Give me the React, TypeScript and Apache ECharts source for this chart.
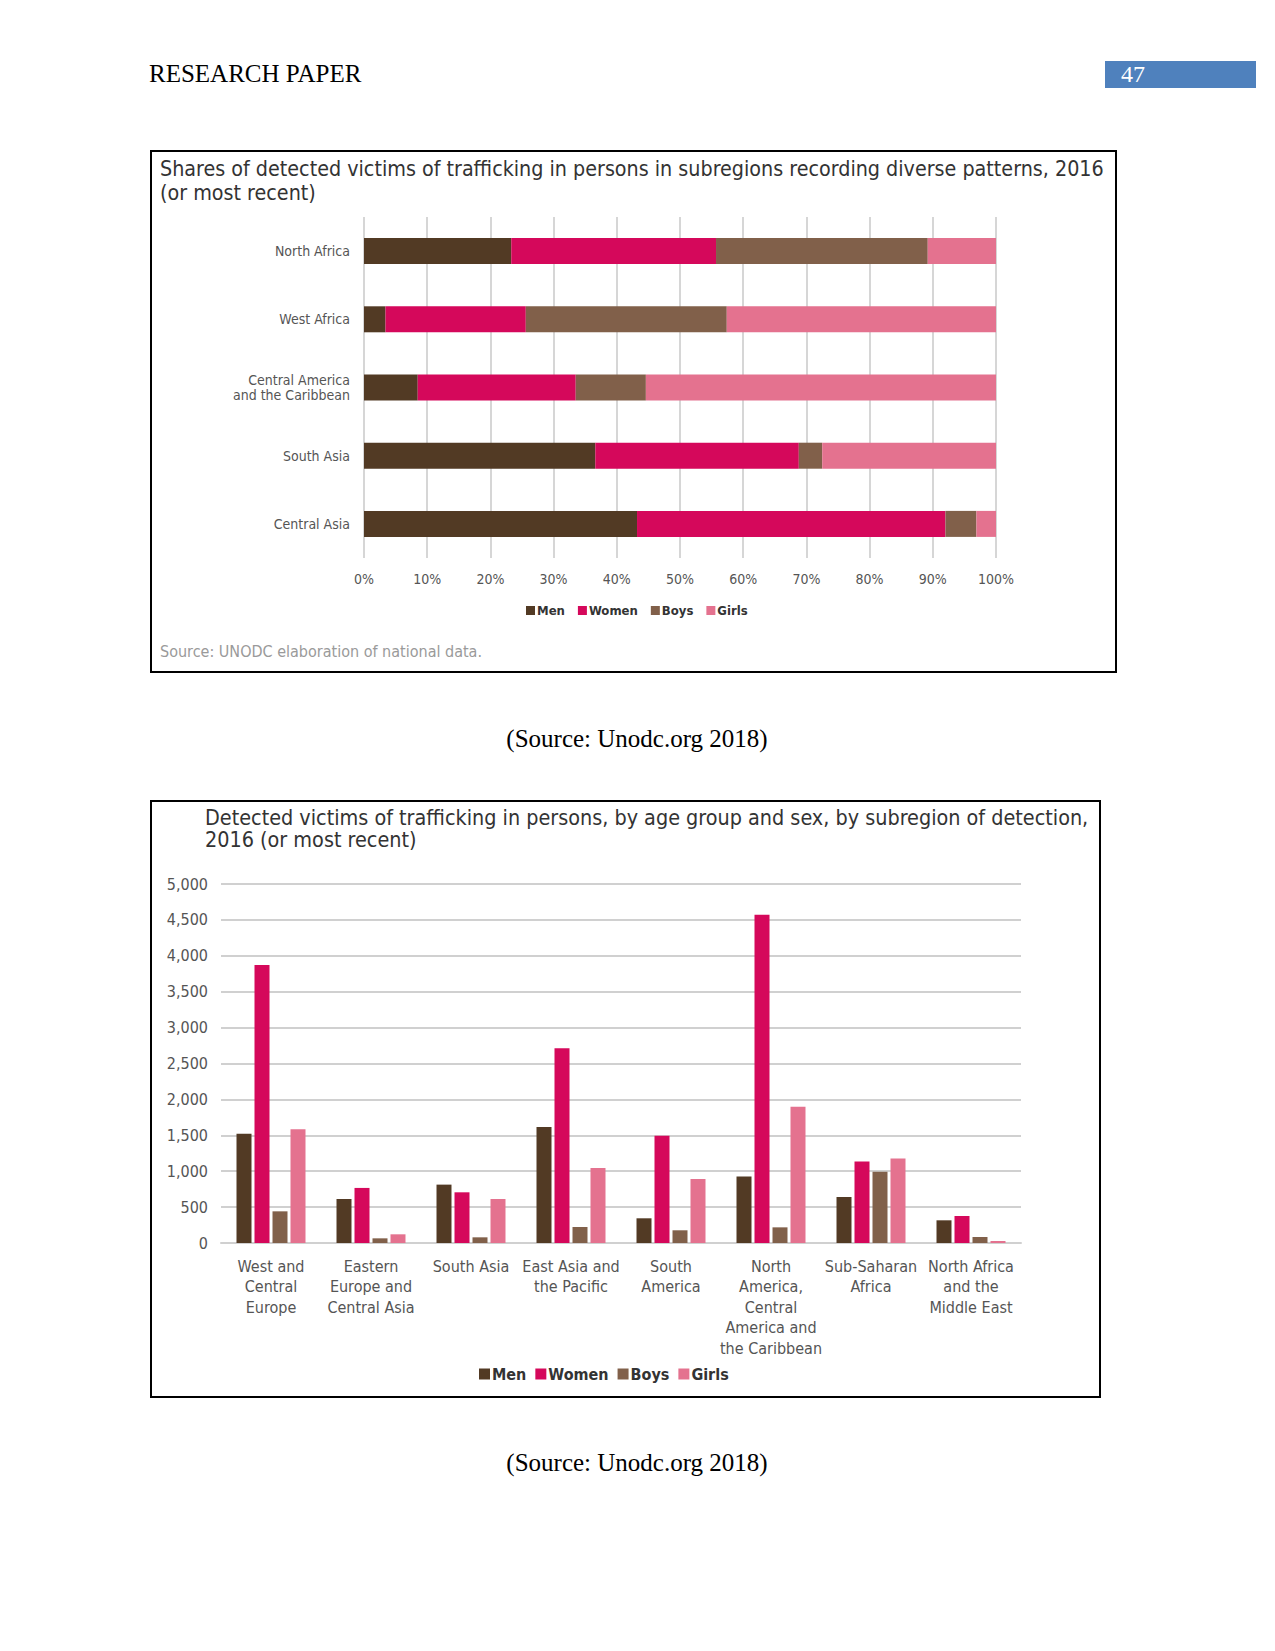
import React, { useEffect, useRef } from "react";
import * as echarts from "echarts";

// ---------- Data ----------
const shareCategories = ["North Africa", "West Africa", "Central America\nand the Caribbean", "South Asia", "Central Asia"];
const shareMen = [23.3, 3.4, 8.5, 36.6, 43.2];
const shareWomen = [32.4, 22.2, 25.0, 32.2, 48.8];
const shareBoys = [33.5, 31.8, 11.1, 3.7, 4.9];
const shareGirls = [10.8, 42.6, 55.4, 27.5, 3.1];

const countCategories = [
  "West and\nCentral\nEurope",
  "Eastern\nEurope and\nCentral Asia",
  "South Asia",
  "East Asia and\nthe Pacific",
  "South\nAmerica",
  "North\nAmerica,\nCentral\nAmerica and\nthe Caribbean",
  "Sub-Saharan\nAfrica",
  "North Africa\nand the\nMiddle East",
];
const countMen = [1520, 613, 813, 1617, 344, 925, 641, 316];
const countWomen = [3871, 767, 706, 2714, 1492, 4572, 1134, 376];
const countBoys = [441, 65, 79, 223, 177, 218, 994, 84];
const countGirls = [1585, 121, 613, 1046, 892, 1896, 1176, 28];

const seriesNames = ["Men", "Women", "Boys", "Girls"];
const colors = ["#523a24", "#d5085b", "#81604a", "#e4728f"];

const SANS = "'Liberation Sans Narrow', 'DejaVu Sans Condensed', 'Open Sans', sans-serif";
const SERIF = "'Liberation Serif', 'Times New Roman', serif";

export default function App() {
  const ref = useRef<HTMLDivElement>(null);
  useEffect(() => {
    document.body.style.margin = "0";
    const chart = echarts.init(ref.current!, null, { renderer: "svg" });
    const shareData = [shareMen, shareWomen, shareBoys, shareGirls];
    const countData = [countMen, countWomen, countBoys, countGirls];

    const option: any = {
      animation: false,
      backgroundColor: "#ffffff",
      color: colors,
      grid: [
        { left: 364, top: 217, width: 632, height: 341 },
        { left: 221, top: 884, width: 800, height: 359 },
      ],
      xAxis: [
        {
          gridIndex: 0,
          type: "value",
          min: 0,
          max: 100,
          interval: 10,
          axisLine: { show: false },
          axisTick: { show: false },
          splitLine: { show: true, lineStyle: { color: "#c8c8c8", width: 1.5 } },
          axisLabel: { formatter: "{value}%", color: "#555", fontFamily: SANS, fontSize: 14, margin: 14 },
        },
        {
          gridIndex: 1,
          type: "category",
          data: countCategories,
          axisLine: { show: true, lineStyle: { color: "#d0d0d0", width: 2 } },
          axisTick: { show: false },
          axisLabel: { color: "#555", fontFamily: SANS, fontSize: 16, lineHeight: 20.5, margin: 13, interval: 0 },
        },
      ],
      yAxis: [
        {
          gridIndex: 0,
          type: "category",
          inverse: true,
          data: shareCategories,
          axisLine: { show: false },
          axisTick: { show: false },
          axisLabel: { color: "#555", fontFamily: SANS, fontSize: 14, lineHeight: 15, margin: 14 },
        },
        {
          gridIndex: 1,
          type: "value",
          min: 0,
          max: 5000,
          interval: 500,
          axisLine: { show: false },
          axisTick: { show: false },
          splitLine: { show: true, lineStyle: { color: "#d0d0d0", width: 2 } },
          axisLabel: {
            color: "#555",
            fontFamily: SANS,
            fontSize: 16,
            margin: 13,
            formatter: (v: number) => v.toLocaleString("en-US"),
          },
        },
      ],
      legend: [
        {
          data: seriesNames,
          left: 526,
          top: 604,
          icon: "rect",
          itemWidth: 9,
          itemHeight: 9,
          itemGap: 13,
          padding: 0,
          selectedMode: false,
          textStyle: { fontFamily: SANS, fontSize: 13, fontWeight: "bold", color: "#333", padding: [0, 0, 0, -3] },
        },
        {
          data: seriesNames,
          left: 479,
          top: 1366,
          icon: "rect",
          itemWidth: 11,
          itemHeight: 11,
          itemGap: 9,
          padding: 0,
          selectedMode: false,
          textStyle: { fontFamily: SANS, fontSize: 16, fontWeight: "bold", color: "#333", padding: [0, 0, 0, -3] },
        },
      ],
      series: [
        ...seriesNames.map((n, i) => ({
          name: n,
          type: "bar",
          stack: "share",
          xAxisIndex: 0,
          yAxisIndex: 0,
          barWidth: 26,
          data: shareData[i],
          itemStyle: { color: colors[i] },
        })),
        ...seriesNames.map((n, i) => ({
          name: n,
          type: "bar",
          xAxisIndex: 1,
          yAxisIndex: 1,
          barWidth: 15,
          barGap: "20%",
          data: countData[i],
          itemStyle: { color: colors[i] },
        })),
      ],
      graphic: [
        { type: "text", left: 149, top: 61, style: { text: "RESEARCH PAPER", fontFamily: SERIF, fontSize: 25, fill: "#000" } },
        { type: "rect", shape: { x: 1105, y: 61, width: 151, height: 27 }, style: { fill: "#4f81bd" } },
        { type: "text", left: 1121, top: 62, style: { text: "47", fontFamily: SERIF, fontSize: 24, fill: "#fff" } },
        // box 1
        { type: "rect", shape: { x: 151, y: 151, width: 965, height: 521 }, style: { fill: "none", stroke: "#000", lineWidth: 2 } },
        {
          type: "text",
          left: 160,
          top: 156,
          style: {
            text: "Shares of detected victims of trafficking in persons in subregions recording diverse patterns, 2016\n(or most recent)",
            fontFamily: SANS,
            fontSize: 21.3,
            lineHeight: 24,
            fill: "#333",
          },
        },
        {
          type: "text",
          left: 160,
          top: 643,
          style: { text: "Source: UNODC elaboration of national data.", fontFamily: SANS, fontSize: 16, fill: "#9a9a9a" },
        },
        {
          type: "text",
          x: 637,
          y: 738,
          style: { text: "(Source: Unodc.org 2018)", fontFamily: SERIF, fontSize: 25, fill: "#000", align: "center", verticalAlign: "middle" },
        },
        // box 2
        { type: "rect", shape: { x: 151, y: 801, width: 949, height: 596 }, style: { fill: "none", stroke: "#000", lineWidth: 2 } },
        {
          type: "text",
          left: 205,
          top: 806,
          style: {
            text: "Detected victims of trafficking in persons, by age group and sex, by subregion of detection,\n2016 (or most recent)",
            fontFamily: SANS,
            fontSize: 21.4,
            lineHeight: 22,
            fill: "#333",
          },
        },
        {
          type: "text",
          x: 637,
          y: 1462,
          style: { text: "(Source: Unodc.org 2018)", fontFamily: SERIF, fontSize: 25, fill: "#000", align: "center", verticalAlign: "middle" },
        },
      ],
    };
    chart.setOption(option);
    return () => chart.dispose();
  }, []);
  return <div ref={ref} style={{ position: "absolute", left: 0, top: 0, width: 1275, height: 1651 }} />;
}
